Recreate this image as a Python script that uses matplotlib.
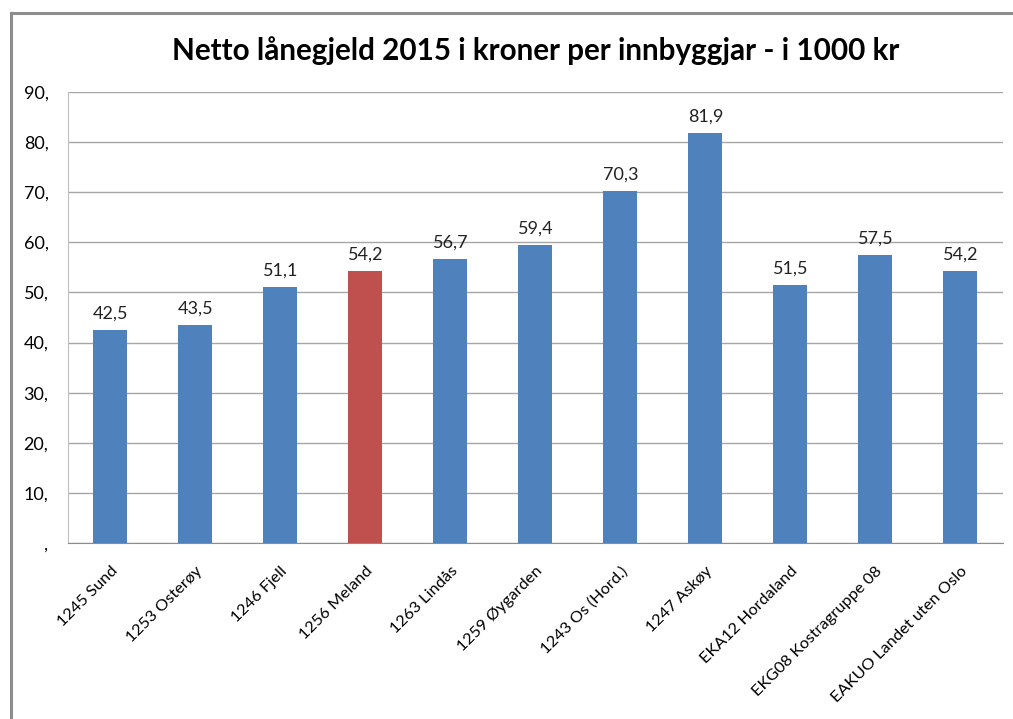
import matplotlib.pyplot as plt
from matplotlib.lines import Line2D

# data
kategoriar = ["1245 Sund", "1253 Osterøy", "1246 Fjell", "1256 Meland", "1263 Lindås",
              "1259 Øygarden", "1243 Os (Hord.)", "1247 Askøy", "EKA12 Hordaland",
              "EKG08 Kostragruppe 08", "EAKUO Landet uten Oslo"]
verdiar = [42.5, 43.5, 51.1, 54.2, 56.7, 59.4, 70.3, 81.9, 51.5, 57.5, 54.2]
y_ticks = [0, 10, 20, 30, 40, 50, 60, 70, 80, 90]
y_ticklabels = [",", "10,", "20,", "30,", "40,", "50,", "60,", "70,", "80,", "90,"]
utheva = "1256 Meland"

blue = "#4F81BD"
red = "#C0504D"
plt.rcParams['font.family'] = ['Lato', 'DejaVu Sans']

fig = plt.figure(figsize=(10.13, 7.19), dpi=100)
ax = fig.add_axes([0.0671, 0.2448, 0.9229, 0.6272])

x = list(range(len(kategoriar)))
farger = [red if k == utheva else blue for k in kategoriar]
ax.bar(x, verdiar, width=0.4, color=farger, zorder=3)

for xi, v in zip(x, verdiar):
    ax.annotate(f"{v:.1f}".replace(".", ","), (xi, v), xytext=(0, 6),
                textcoords="offset points", ha="center", va="bottom",
                fontsize=13, color="#222222")

ax.set_xlim(-0.5, len(kategoriar) - 0.5)
ax.set_ylim(0, 90)
ax.set_yticks(y_ticks)
ax.set_yticklabels(y_ticklabels, fontsize=13)
ax.set_xticks(x)
ax.set_xticklabels(kategoriar, rotation=45, ha="right", rotation_mode="anchor", fontsize=11.8)
ax.tick_params(axis="y", length=0, pad=14)
ax.tick_params(axis="x", length=0, pad=15)
ax.grid(axis="y", color="#A6A6A6", linewidth=1, zorder=0)

for s in ["top", "right"]:
    ax.spines[s].set_visible(False)
ax.spines["left"].set_color("#BFBFBF")
ax.spines["bottom"].set_color("#8C8C8C")

ax.set_title("Netto lånegjeld 2015 i kroner per innbyggjar - i 1000 kr",
             fontsize=21.3, fontweight="bold", pad=23)

# ramme rundt diagrammet (berre topp og venstre er synlege)
fig.add_artist(Line2D([0.011, 1.0], [0.982, 0.982], color="#8C8C8C", linewidth=2.2,
                      transform=fig.transFigure))
fig.add_artist(Line2D([0.011, 0.011], [0.0, 0.982], color="#8C8C8C", linewidth=2.2,
                      transform=fig.transFigure))

fig.savefig("out.png", dpi=100)
